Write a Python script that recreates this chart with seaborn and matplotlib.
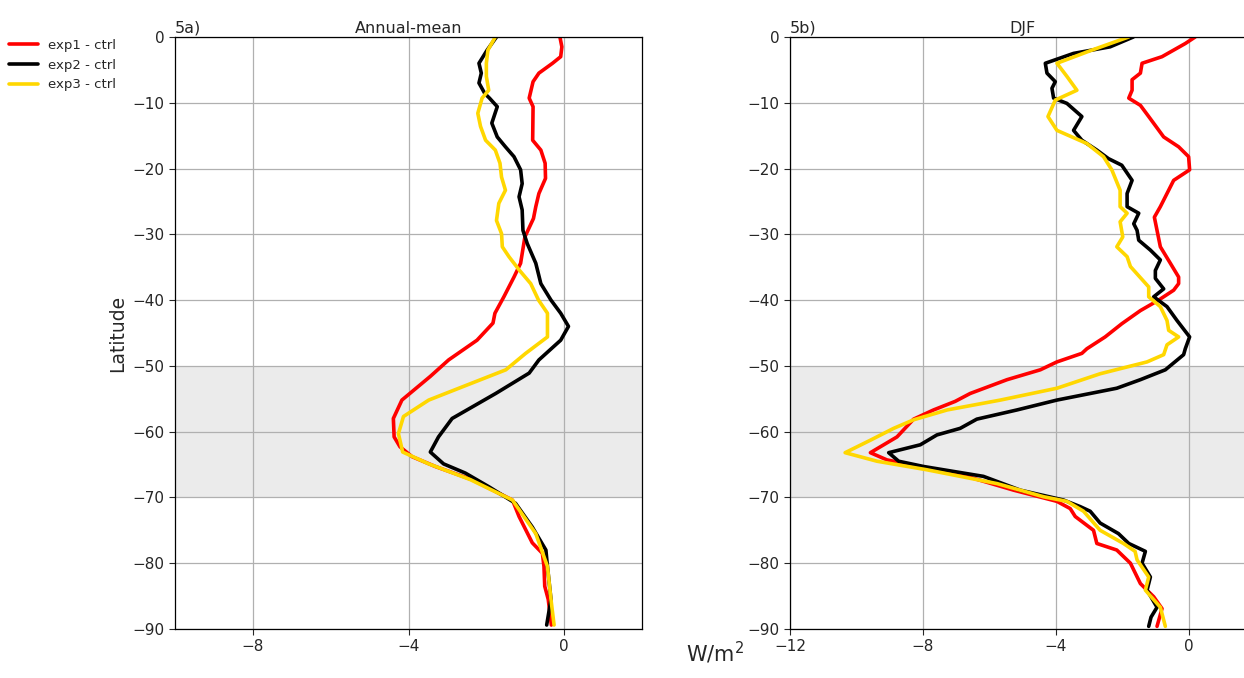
import numpy as np
import pandas as pd
import seaborn as sns
import matplotlib.pyplot as plt

# ---- data (latitude, W/m2) ----
# 5a) annual mean
ann_exp1_lat = [0, -1.5, -3, -4, -5.5, -6.8, -9.3, -10.6, -15.7, -17.2, -19.2, -21.5, -23.8, -25.8, -27.6,
                -30.4, -34.4, -36.5, -39.5, -42.0, -43.5, -46.1, -49.1, -51.6, -55.2, -58.0, -60.8, -62.3,
                -63.8, -65.3, -67.3, -70.4, -72.9, -76.9, -78.5, -80.5, -83.5, -85.5, -89.4]
ann_exp1 = [-0.11, -0.06, -0.09, -0.30, -0.65, -0.80, -0.90, -0.80, -0.81, -0.60, -0.49, -0.48, -0.65, -0.73, -0.79,
            -1.01, -1.12, -1.29, -1.55, -1.78, -1.83, -2.24, -2.97, -3.44, -4.17, -4.39, -4.37, -4.22,
            -3.91, -3.31, -2.37, -1.33, -1.16, -0.82, -0.56, -0.52, -0.50, -0.41, -0.33]

ann_exp2_lat = [0, -2.0, -4.0, -5.5, -7.0, -8.6, -9.3, -10.6, -13.1, -15.2, -16.7, -18.2, -20.2, -22.3, -24.3,
                -26.3, -29.4, -31.4, -34.4, -37.5, -40.0, -42.0, -44.0, -46.1, -49.1, -51.1, -54.2, -58.0,
                -60.8, -63.1, -64.9, -66.3, -68.4, -70.9, -74.5, -78.0, -80.5, -85.5, -89.4]
ann_exp2 = [-1.74, -1.98, -2.19, -2.13, -2.19, -2.04, -1.92, -1.72, -1.86, -1.72, -1.51, -1.29, -1.12, -1.08, -1.16,
            -1.08, -1.06, -0.95, -0.73, -0.60, -0.34, -0.09, 0.11, -0.09, -0.65, -0.90, -1.76, -2.88,
            -3.23, -3.44, -3.10, -2.54, -1.93, -1.25, -0.82, -0.47, -0.43, -0.34, -0.45]

ann_exp3_lat = [0, -2.0, -4.0, -6.0, -8.1, -9.3, -11.6, -13.6, -15.7, -17.2, -19.2, -21.3, -23.3, -25.3, -27.9,
                -29.9, -31.9, -33.4, -35.4, -37.5, -40.0, -42.0, -45.6, -48.1, -50.6, -53.2, -55.2, -57.7,
                -60.3, -63.1, -64.9, -67.3, -70.4, -75.5, -80.5, -85.5, -89.4]
ann_exp3 = [-1.77, -1.96, -2.00, -2.00, -1.94, -2.11, -2.22, -2.15, -2.02, -1.77, -1.65, -1.61, -1.51, -1.68, -1.74,
            -1.61, -1.59, -1.42, -1.16, -0.86, -0.66, -0.43, -0.43, -0.99, -1.50, -2.62, -3.48, -4.13,
            -4.26, -4.15, -3.48, -2.41, -1.33, -0.73, -0.43, -0.34, -0.26]

# 5b) DJF
djf_exp1_lat = [0, -1.0, -3.0, -4.0, -5.5, -6.5, -8.1, -9.3, -10.4, -12.1, -15.2, -16.7, -18.2, -20.2, -21.8,
                -23.8, -25.8, -27.4, -29.4, -31.9, -34.4, -36.5, -37.5, -38.5, -40.0, -41.6, -43.6, -45.6,
                -47.4, -48.1, -49.4, -50.6, -52.1, -54.2, -55.4, -56.7, -58.1, -60.8, -62.0, -63.2, -64.3,
                -65.3, -66.8, -68.9, -70.6, -71.7, -72.9, -75.0, -77.0, -78.0, -80.0, -83.1, -85.1, -86.9, -89.6]
djf_exp1 = [0.19, -0.11, -0.81, -1.41, -1.46, -1.71, -1.71, -1.81, -1.46, -1.21, -0.76, -0.31, -0.01, 0.02, -0.46,
            -0.66, -0.86, -1.04, -0.96, -0.86, -0.56, -0.31, -0.31, -0.46, -0.91, -1.46, -2.02, -2.52,
            -3.07, -3.22, -3.97, -4.47, -5.47, -6.58, -7.03, -7.68, -8.28, -8.78, -9.18, -9.58, -9.08,
            -8.08, -6.68, -5.27, -3.97, -3.57, -3.42, -2.87, -2.77, -2.17, -1.76, -1.46, -1.06, -0.81, -0.96]

djf_exp2_lat = [0, -1.5, -2.5, -4.0, -5.5, -6.8, -7.8, -9.3, -10.1, -12.1, -14.2, -15.7, -17.2, -18.5, -19.5,
                -21.8, -23.8, -25.8, -26.8, -28.4, -29.4, -30.9, -32.4, -33.9, -35.5, -36.7, -38.3, -39.5,
                -41.0, -43.1, -45.6, -47.4, -48.3, -50.6, -52.1, -53.4, -55.2, -56.7, -58.1, -59.5, -60.5,
                -62.0, -63.2, -64.5, -65.3, -66.8, -68.9, -70.4, -71.4, -72.1, -73.9, -75.5, -77.0, -78.2,
                -80.0, -82.1, -84.1, -86.7, -88.2, -89.6]
djf_exp2 = [-1.67, -2.37, -3.47, -4.32, -4.27, -4.02, -4.12, -4.07, -3.67, -3.22, -3.47, -3.22, -2.77, -2.42, -2.02,
            -1.71, -1.86, -1.86, -1.51, -1.66, -1.56, -1.51, -1.16, -0.86, -1.01, -1.01, -0.76, -1.06,
            -0.66, -0.36, 0.02, -0.11, -0.16, -0.71, -1.46, -2.17, -3.97, -5.17, -6.38, -6.88, -7.58,
            -8.08, -9.03, -8.73, -7.98, -6.18, -5.07, -3.77, -3.27, -2.97, -2.67, -2.12, -1.81, -1.31,
            -1.41, -1.16, -1.26, -0.96, -1.14, -1.21]

djf_exp3_lat = [0, -2.0, -4.0, -6.0, -8.1, -9.6, -12.1, -14.2, -16.2, -18.2, -20.2, -23.3, -25.8, -26.8, -28.1,
                -30.4, -31.9, -33.4, -34.9, -38.0, -39.5, -41.0, -43.1, -44.6, -45.6, -46.8, -48.3, -49.4,
                -51.2, -53.4, -55.2, -56.7, -58.2, -59.5, -61.3, -63.2, -64.5, -65.8, -67.9, -69.9, -70.6,
                -72.1, -75.0, -77.0, -78.2, -79.5, -82.1, -84.1, -86.7, -89.6]
djf_exp3 = [-1.81, -2.92, -3.97, -3.67, -3.37, -4.02, -4.24, -3.97, -3.07, -2.57, -2.32, -2.07, -2.07, -1.86, -2.07,
            -1.99, -2.17, -1.86, -1.76, -1.21, -1.21, -0.86, -0.66, -0.61, -0.31, -0.66, -0.76, -1.26,
            -2.67, -3.97, -5.67, -7.27, -8.28, -8.88, -9.58, -10.34, -9.38, -7.88, -5.77, -4.37, -3.67,
            -3.17, -2.67, -1.97, -1.62, -1.56, -1.21, -1.31, -0.86, -0.71]

labels = ["exp1 - ctrl", "exp2 - ctrl", "exp3 - ctrl"]
colors = ["#ff0000", "#000000", "#ffd700"]


def make_df(series):
    frames = []
    for lab, (lat, val) in zip(labels, series):
        frames.append(pd.DataFrame({"lat": lat, "val": val, "exp": lab}))
    return pd.concat(frames, ignore_index=True)


df_ann = make_df([(ann_exp1_lat, ann_exp1), (ann_exp2_lat, ann_exp2), (ann_exp3_lat, ann_exp3)])
df_djf = make_df([(djf_exp1_lat, djf_exp1), (djf_exp2_lat, djf_exp2), (djf_exp3_lat, djf_exp3)])

sns.set_style("ticks")
plt.rcParams["font.family"] = ["DejaVu Sans"]

fig = plt.figure(figsize=(12.44, 6.78), dpi=100)
ax1 = fig.add_axes([0.1407, 0.0723, 0.3754, 0.8732])
ax2 = fig.add_axes([0.6350, 0.0723, 0.3742, 0.8732])

panels = [(ax1, df_ann, "5a)", "Annual-mean", [-8, -4, 0]),
          (ax2, df_djf, "5b)", "DJF", [-12, -8, -4, 0])]

for ax, df, tag, title, xt in panels:
    ax.axhspan(-70, -50, color="#ebebeb", zorder=0.2, lw=0)
    sns.lineplot(data=df, x="val", y="lat", hue="exp", palette=colors, orient="y",
                 sort=False, estimator=None, lw=2.6, ax=ax, legend=False)
    ax.set_xlim(-10 if ax is ax1 else -12, 2)
    ax.set_ylim(-90, 0)
    ax.set_yticks(np.arange(-90, 1, 10))
    ax.set_xticks(xt)
    ax.set_xticklabels([f"{v}".replace("-", "\u2212") for v in xt])
    ax.grid(True, color="#b0b0b0", lw=0.9)
    ax.set_axisbelow(True)
    for s in ax.spines.values():
        s.set_visible(True)
        s.set_color("black")
        s.set_linewidth(0.9)
    ax.tick_params(labelsize=11, length=4)
    ax.set_xlabel("")
    ax.set_ylabel("")
    ax.set_title(tag, loc="left", fontsize=11.5, pad=3)
    ax.set_title(title, loc="center", fontsize=11.5, pad=3)

# right edge of the DJF panel falls outside the saved figure
ax2.spines["right"].set_visible(False)

ax1.set_ylabel("Latitude", fontsize=13.5, labelpad=4)
fig.text(0.575, 0.018, "W/m$^2$", fontsize=15, ha="center", va="bottom")

handles = [plt.Line2D([], [], color=c, lw=2.6) for c in colors]
fig.legend(handles, labels, loc="upper left", bbox_to_anchor=(-0.002, 0.96), frameon=False,
           fontsize=9.5, handlelength=2.2, handletextpad=0.7, labelspacing=0.5)

fig.savefig("out.png", dpi=100)
